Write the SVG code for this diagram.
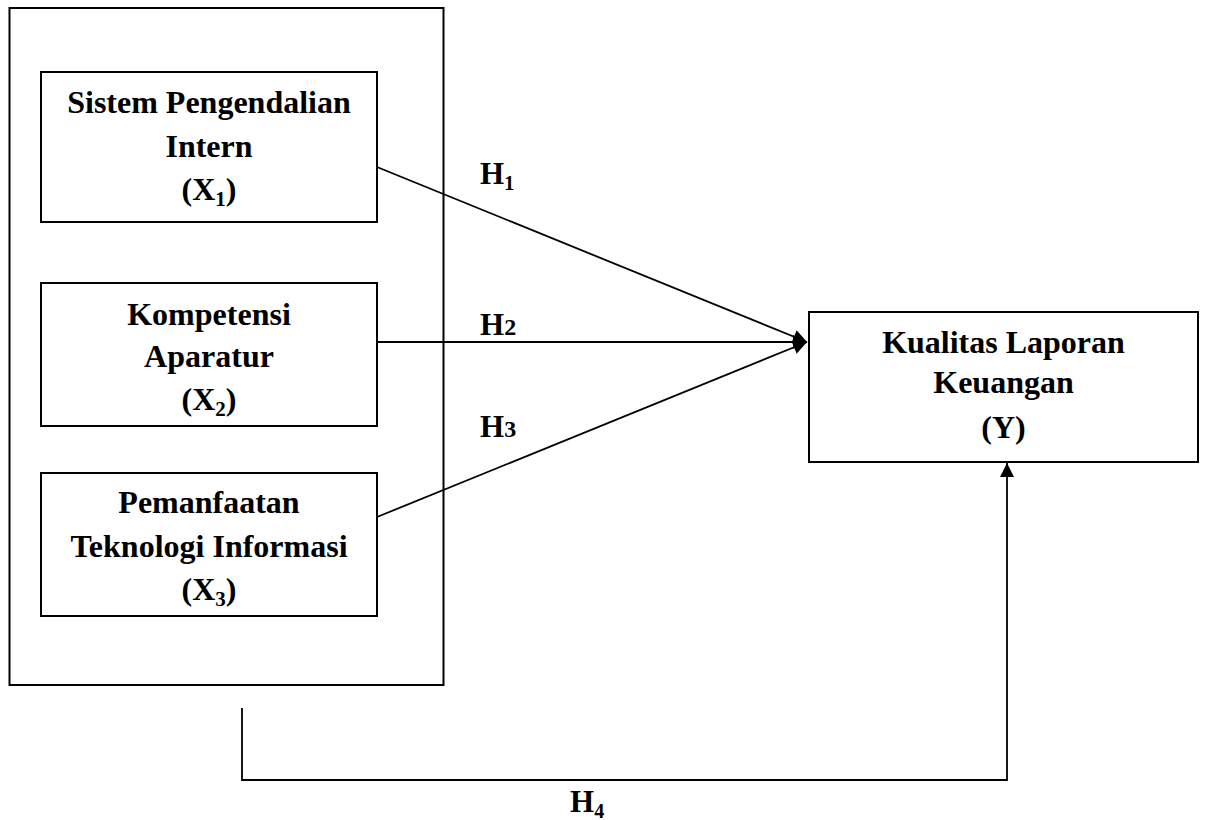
<svg xmlns="http://www.w3.org/2000/svg" width="1205" height="820" viewBox="0 0 1205 820">
<style>
.box{fill:#fff;stroke:#000;stroke-width:2}
.t{font-family:"Liberation Serif","Times New Roman",serif;font-weight:bold;font-size:32px;fill:#000;text-anchor:middle}
.h{font-family:"Liberation Serif","Times New Roman",serif;font-weight:bold;font-size:31px;fill:#000}
.ln{fill:none;stroke:#000;stroke-width:1.8}
</style>
<defs>
<marker id="arr" viewBox="0 0 10 10" refX="10" refY="5" markerWidth="15" markerHeight="14" markerUnits="userSpaceOnUse" orient="auto">
<path d="M0,0 L10,5 L0,10 z" fill="#000"/>
</marker>
</defs>
<rect id="outer" class="box" x="9.5" y="8" width="434" height="677"/>
<g id="connectors">
<line class="ln" x1="377" y1="167" x2="807" y2="342" marker-end="url(#arr)"/>
<line class="ln" x1="377" y1="342" x2="807" y2="342" marker-end="url(#arr)"/>
<line class="ln" x1="377" y1="517" x2="807" y2="342" marker-end="url(#arr)"/>
<polyline class="ln" points="242,708 242,780 1007,780 1007,463" marker-end="url(#arr)"/>
<text class="h" x="480" y="184">H<tspan font-size="20" dy="6">1</tspan></text>
<text class="h" x="480" y="335">H<tspan font-size="24">2</tspan></text>
<text class="h" x="480" y="437">H<tspan font-size="24">3</tspan></text>
<text class="h" x="570" y="812">H<tspan font-size="20" dy="6">4</tspan></text>
</g>
<g id="x1">
<rect class="box" x="41" y="72" width="336" height="150"/>
<text class="t" x="209" y="113">Sistem Pengendalian</text>
<text class="t" x="209" y="157">Intern</text>
<text class="t" x="209" y="200">(X<tspan font-size="21" dy="6">1</tspan><tspan dy="-6">)</tspan></text>
</g>
<g id="x2">
<rect class="box" x="41" y="283" width="336" height="143"/>
<text class="t" x="209" y="325">Kompetensi</text>
<text class="t" x="209" y="367">Aparatur</text>
<text class="t" x="209" y="410">(X<tspan font-size="21" dy="6">2</tspan><tspan dy="-6">)</tspan></text>
</g>
<g id="x3">
<rect class="box" x="41" y="473" width="336" height="143"/>
<text class="t" x="209" y="513">Pemanfaatan</text>
<text class="t" x="209" y="557">Teknologi Informasi</text>
<text class="t" x="209" y="600">(X<tspan font-size="21" dy="6">3</tspan><tspan dy="-6">)</tspan></text>
</g>
<g id="y">
<rect class="box" x="809" y="312" width="389" height="150"/>
<text class="t" x="1003.5" y="353">Kualitas Laporan</text>
<text class="t" x="1003.5" y="393">Keuangan</text>
<text class="t" x="1003.5" y="438">(Y)</text>
</g>
</svg>
